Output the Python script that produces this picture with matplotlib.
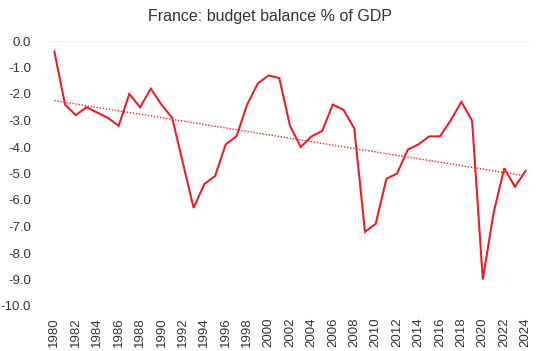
import numpy as np
import matplotlib
matplotlib.use("Agg")
import matplotlib.pyplot as plt
import matplotlib.ticker as ticker

# France budget balance, % of GDP
years = list(range(1980, 2025))
balance = [-0.4, -2.4, -2.8, -2.5, -2.7, -2.9, -3.2, -2.0, -2.5, -1.8,
           -2.4, -2.9, -4.6, -6.3, -5.4, -5.1, -3.9, -3.6, -2.4, -1.6,
           -1.3, -1.4, -3.2, -4.0, -3.6, -3.4, -2.4, -2.6, -3.3, -7.2,
           -6.9, -5.2, -5.0, -4.1, -3.9, -3.6, -3.6, -3.0, -2.3, -3.0,
           -9.0, -6.5, -4.8, -5.5, -4.9]
title = "France: budget balance % of GDP"

plt.rcParams['font.family'] = ['Liberation Sans', 'DejaVu Sans']

fig = plt.figure(figsize=(5.4, 3.51), dpi=100)
ax = fig.add_axes([49 / 540, 1 - 306 / 351, (531 - 49) / 540, (306 - 41) / 351])

red = '#E8202A'
ax.plot(years, balance, color=red, lw=1.5, solid_joinstyle='miter')

# linear trendline
k, b = np.polyfit(years, balance, 1)
xs = np.array([years[0], years[-1]])
ax.plot(xs, k * xs + b, color=red, lw=1.0, ls=(0, (1, 1.2)))

ax.set_xlim(1979.5, 2024.5)
ax.set_ylim(-10, 0)
ax.set_yticks(np.arange(-10, 0.1, 1))
ax.yaxis.set_major_formatter(ticker.FuncFormatter(lambda v, p: "%.1f" % v))
ax.set_xticks(years[::2])
ax.set_xticklabels([str(y) for y in years[::2]], rotation=90)

for s in ax.spines.values():
	s.set_visible(False)
ax.axhline(0, color='#f0f0f0', lw=0.8, zorder=0)
ax.tick_params(length=0, labelsize=9.5, colors='#333333')
ax.tick_params(axis='y', pad=13)
ax.tick_params(axis='x', pad=8)

fig.suptitle(title, y=1 - 17 / 351, va='center', fontsize=11.5, color='#333333')

plt.savefig("out.png", dpi=100)
